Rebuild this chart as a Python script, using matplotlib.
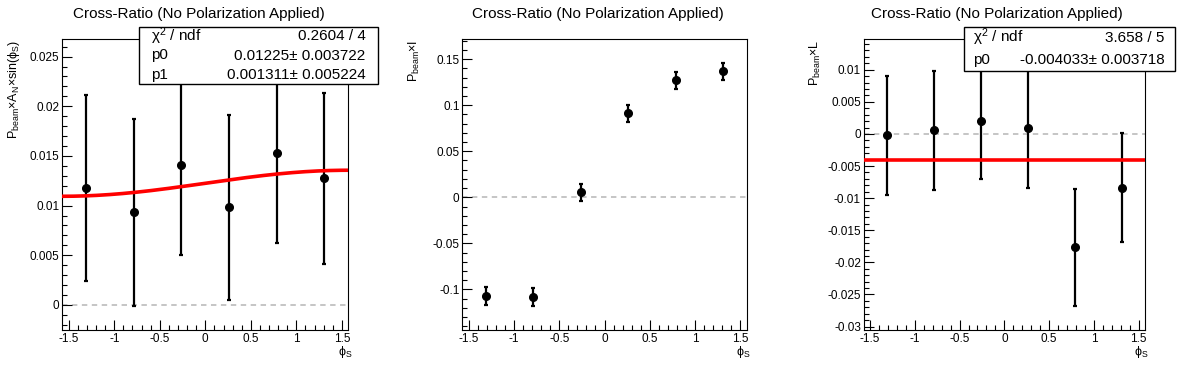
import numpy as np
import matplotlib.pyplot as plt
from matplotlib.patches import Rectangle
from matplotlib.ticker import MultipleLocator

plt.rcParams['font.family'] = ['Liberation Sans', 'DejaVu Sans']
plt.rcParams['mathtext.fontset'] = 'custom'
plt.rcParams['mathtext.rm'] = 'Liberation Sans'
plt.rcParams['mathtext.it'] = 'Liberation Sans:italic'

# bin centres in phi_S
phi = [-1.309, -0.785, -0.262, 0.262, 0.785, 1.309]

# panel 1: P_beam x A_N x sin(phi_S)
an_val = [0.01174, 0.00933, 0.01406, 0.00983, 0.01527, 0.01275]
an_err = [0.00935, 0.0094, 0.0090, 0.0093, 0.0090, 0.0086]
an_p0 = 0.01225
an_p1 = 0.001311

# panel 2: P_beam x I
i_val = [-0.1072, -0.1083, 0.0054, 0.0913, 0.1272, 0.1370]
i_err = [0.0096, 0.0095, 0.0094, 0.0094, 0.0094, 0.0092]

# panel 3: P_beam x L
l_val = [-0.0002, 0.00057, 0.00197, 0.00088, -0.01765, -0.00836]
l_err = [0.0093, 0.0093, 0.0090, 0.0093, 0.0091, 0.0085]
l_p0 = -0.004033

W, H = 1196, 372
fig = plt.figure(figsize=(W / 100, H / 100), dpi=100)

def px_axes(x0, x1, y0, y1):
    return fig.add_axes([x0 / W, 1 - y1 / H, (x1 - x0) / W, (y1 - y0) / H])

ax1 = px_axes(62.3, 348.3, 39.3, 330)
ax2 = px_axes(462.3, 746.7, 39.3, 330)
ax3 = px_axes(863.7, 1145, 39.3, 330)

xlo, xhi = -np.pi / 2, np.pi / 2
ylims = [(-0.00252, 0.02674), (-0.1442, 0.1717), (-0.03053, 0.01474)]
ymaj = [0.005, 0.05, 0.005]
ylabels = [r'$\mathregular{P_{beam}{\times}A_{N}{\times}sin(\phi_{S})}$',
           r'$\mathregular{P_{beam}{\times}I}$',
           r'$\mathregular{P_{beam}{\times}L}$']
ylab_x = [-0.141, -0.142, -0.145]

for k, ax in enumerate([ax1, ax2, ax3]):
    ax.set_xlim(xlo, xhi)
    ax.set_ylim(*ylims[k])
    ax.xaxis.set_major_locator(MultipleLocator(0.5))
    ax.xaxis.set_minor_locator(MultipleLocator(0.1))
    ax.yaxis.set_major_locator(MultipleLocator(ymaj[k]))
    ax.yaxis.set_minor_locator(MultipleLocator(ymaj[k] / 5))
    ax.tick_params(which='both', direction='in', top=False, right=False,
                   labelsize=8.5, width=0.8, pad=2)
    ax.tick_params(which='major', length=7)
    ax.tick_params(which='minor', length=3.5)
    ax.xaxis.set_major_formatter(plt.FuncFormatter(lambda v, p: '%g' % round(v, 4)))
    ax.yaxis.set_major_formatter(plt.FuncFormatter(lambda v, p: '%g' % round(v, 6)))
    for s in ax.spines.values():
        s.set_linewidth(0.8)
    ax.axhline(0, color='#c0c0c0', lw=1.3, ls=(0, (3, 2.5)), zorder=1)
    ax.set_ylabel(ylabels[k], fontsize=9, loc='top')
    ax.yaxis.set_label_coords(ylab_x[k], 1.0)
    ax.set_xlabel(r'$\mathregular{\phi_{S}}$', fontsize=9, loc='right')
    ax.xaxis.set_label_coords(1.013, -0.048)
    ax.xaxis.label.set_va('top')

for ax, val, err in [(ax1, an_val, an_err), (ax2, i_val, i_err), (ax3, l_val, l_err)]:
    ax.errorbar(phi, val, yerr=err, fmt='o', color='black', ms=5.5,
                elinewidth=1.6, capsize=1.6, capthick=1.6, zorder=3)

xs = np.linspace(xlo, xhi, 200)
ax1.plot(xs, an_p0 + an_p1 * np.sin(xs), color='red', lw=2.6, zorder=4)
ax3.plot([xlo, xhi], [l_p0, l_p0], color='red', lw=2.6, zorder=4)

# titles, one per pad
for cx in [199, 598, 997]:
    fig.text(cx / W, 1 - 14 / H, 'Cross-Ratio (No Polarization Applied)',
             ha='center', va='center', fontsize=11)

def stat_box(x0, x1, y0, y1, rows, lx, rx):
    fig.add_artist(Rectangle((x0 / W, 1 - y1 / H), (x1 - x0) / W, (y1 - y0) / H,
                             transform=fig.transFigure, facecolor='white',
                             edgecolor='black', lw=1.0, zorder=5))
    n = len(rows)
    step = (y1 - y0) / n
    for j, (name, txt) in enumerate(rows):
        yc = y0 + step * (j + 0.5)
        fig.text(lx / W, 1 - yc / H, name, ha='left', va='center',
                 fontsize=11, zorder=6)
        fig.text(rx / W, 1 - yc / H, txt, ha='right', va='center',
                 fontsize=11, zorder=6)

stat_box(139.3, 378.3, 26.7, 84.3,
         [(r'$\mathregular{\chi^{2}}$ / ndf', '0.2604 / 4'),
          ('p0', '%.5f\u00b1 %.6f' % (an_p0, 0.003722)),
          ('p1', '%.6f\u00b1 %.6f' % (an_p1, 0.005224))],
         150.7, 365.7)
stat_box(964.3, 1175.3, 26.7, 70.7,
         [(r'$\mathregular{\chi^{2}}$ / ndf', '3.658 / 5'),
          ('p0', '%.6f\u00b1 %.6f' % (l_p0, 0.003718))],
         973.3, 1164.3)

fig.savefig('out.png', dpi=100)
